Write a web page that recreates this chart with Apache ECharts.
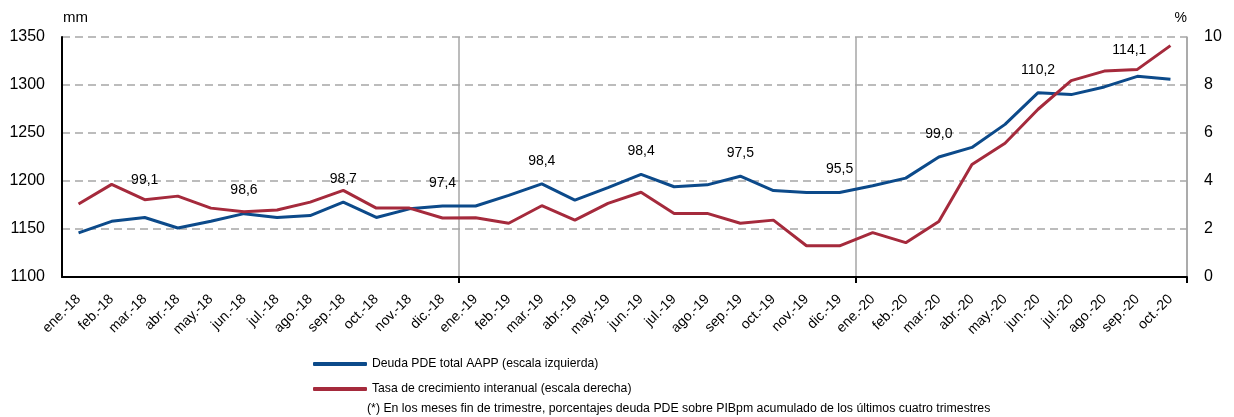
<!DOCTYPE html>
<html>
<head>
<meta charset="utf-8">
<script src="https://cdn.jsdelivr.net/npm/echarts@6/dist/echarts.min.js"></script>
<style>
html,body{margin:0;padding:0;background:#fff;}
#chart{width:1234px;height:417px;}
</style>
</head>
<body>
<div id="chart"></div>
<script>
const categories = ['ene.-18','feb.-18','mar.-18','abr.-18','may.-18','jun.-18','jul.-18','ago.-18','sep.-18','oct.-18','nov.-18','dic.-18',
  'ene.-19','feb.-19','mar.-19','abr.-19','may.-19','jun.-19','jul.-19','ago.-19','sep.-19','oct.-19','nov.-19','dic.-19',
  'ene.-20','feb.-20','mar.-20','abr.-20','may.-20','jun.-20','jul.-20','ago.-20','sep.-20','oct.-20'];
const deudaTotal = [1146,1158,1162,1151,1158,1166,1162,1164,1178,1162,1171,1174,
  1174,1185,1197,1180,1193,1207,1194,1196,1205,1190,1188,1188,
  1195,1203,1225,1235,1259,1292,1290,1298,1309,1306];
const tasaCrecimiento = [3.04,3.86,3.22,3.37,2.87,2.72,2.79,3.12,3.61,2.87,2.87,2.46,
  2.47,2.24,2.97,2.37,3.07,3.53,2.65,2.65,2.24,2.37,1.30,1.30,
  1.85,1.43,2.31,4.69,5.57,6.99,8.18,8.58,8.65,9.64];
const ratioLabels = [null,null,'99,1',null,null,'98,6',null,null,'98,7',null,null,'97,4',
  null,null,'98,4',null,null,'98,4',null,null,'97,5',null,null,'95,5',
  null,null,'99,0',null,null,'110,2',null,null,'114,1',null];
const leftTicks = {min:1100, max:1350, interval:50};
const rightTicks = {min:0, max:10, interval:2};
const seriesNames = ['Deuda PDE total AAPP (escala izquierda)','Tasa de crecimiento interanual (escala derecha)'];
const footnote = '(*) En los meses fin de trimestre, porcentajes deuda PDE sobre PIBpm acumulado de los últimos cuatro trimestres';

const sans = '"Liberation Sans", Arial, Helvetica, sans-serif';
const BLUE = '#0c4a8a';
const RED = '#a52a3c';
const GRID = '#a6a6a6';

const labelOverrides = {2:{offset:[0,-14]}, 32:{offset:[-8,-3]}};
const blueData = deudaTotal.map((v,i)=>{
  const item = {value:v};
  if (ratioLabels[i]) {
    item.label = Object.assign({show:true, formatter: ratioLabels[i]}, labelOverrides[i]||{});
  }
  return item;
});
const sepIdx = (idx)=> idx===12 || idx===24;

const chart = echarts.init(document.getElementById('chart'), null, {renderer:'canvas'});
chart.setOption({
  animation:false,
  backgroundColor:'#fff',
  grid:{left:62, right:47, top:37, bottom:140, containLabel:false},
  legend:{
    orient:'vertical', left:308, top:353, itemWidth:54, itemHeight:4, itemGap:13,
    icon:'roundRect',
    textStyle:{fontFamily:sans, fontSize:12.2, color:'#000'},
    data:seriesNames
  },
  graphic:[{type:'text', left:367, top:403, style:{text:footnote, font:'12.3px '+sans, fill:'#000'}}],
  xAxis:{
    type:'category', data:categories, boundaryGap:true,
    axisLine:{show:true, lineStyle:{color:'#000', width:2}},
    axisTick:{show:true, interval:sepIdx, length:6, lineStyle:{color:'#000', width:2}},
    splitLine:{show:true, interval:sepIdx, lineStyle:{color:GRID, width:1.5, type:'solid'}},
    axisLabel:{rotate:45, margin:20, interval:0, fontFamily:sans, fontSize:14, color:'#000'}
  },
  yAxis:[{
    type:'value', min:leftTicks.min, max:leftTicks.max, interval:leftTicks.interval,
    name:'mm', nameLocation:'end', nameGap:12,
    nameTextStyle:{fontFamily:sans, fontSize:15, color:'#000', align:'left', padding:[0,0,0,1]},
    axisLine:{show:true, lineStyle:{color:'#000', width:2}},
    axisTick:{show:false},
    axisLabel:{margin:17, fontFamily:sans, fontSize:16, color:'#000', formatter:(v)=>String(v)},
    splitLine:{show:true, lineStyle:{color:GRID, width:1.5, type:[8,5]}}
  },{
    type:'value', min:rightTicks.min, max:rightTicks.max, interval:rightTicks.interval,
    name:'%', nameLocation:'end', nameGap:12,
    nameTextStyle:{fontFamily:sans, fontSize:14, color:'#000', align:'right'},
    axisLine:{show:true, lineStyle:{color:GRID, width:1.5}},
    axisTick:{show:false},
    axisLabel:{margin:17, fontFamily:sans, fontSize:16, color:'#000'},
    splitLine:{show:false}
  }],
  series:[{
    name:seriesNames[0], type:'line', yAxisIndex:0, data:blueData,
    showSymbol:true, symbol:'circle', symbolSize:0,
    lineStyle:{color:BLUE, width:3}, itemStyle:{color:BLUE},
    label:{show:false, position:'top', distance:16, fontFamily:sans, fontSize:14, color:'#000'},
    emphasis:{disabled:true}
  },{
    name:seriesNames[1], type:'line', yAxisIndex:1, data:tasaCrecimiento,
    showSymbol:false, symbol:'none',
    lineStyle:{color:RED, width:3}, itemStyle:{color:RED},
    emphasis:{disabled:true}
  }]
});
</script>
</body>
</html>
